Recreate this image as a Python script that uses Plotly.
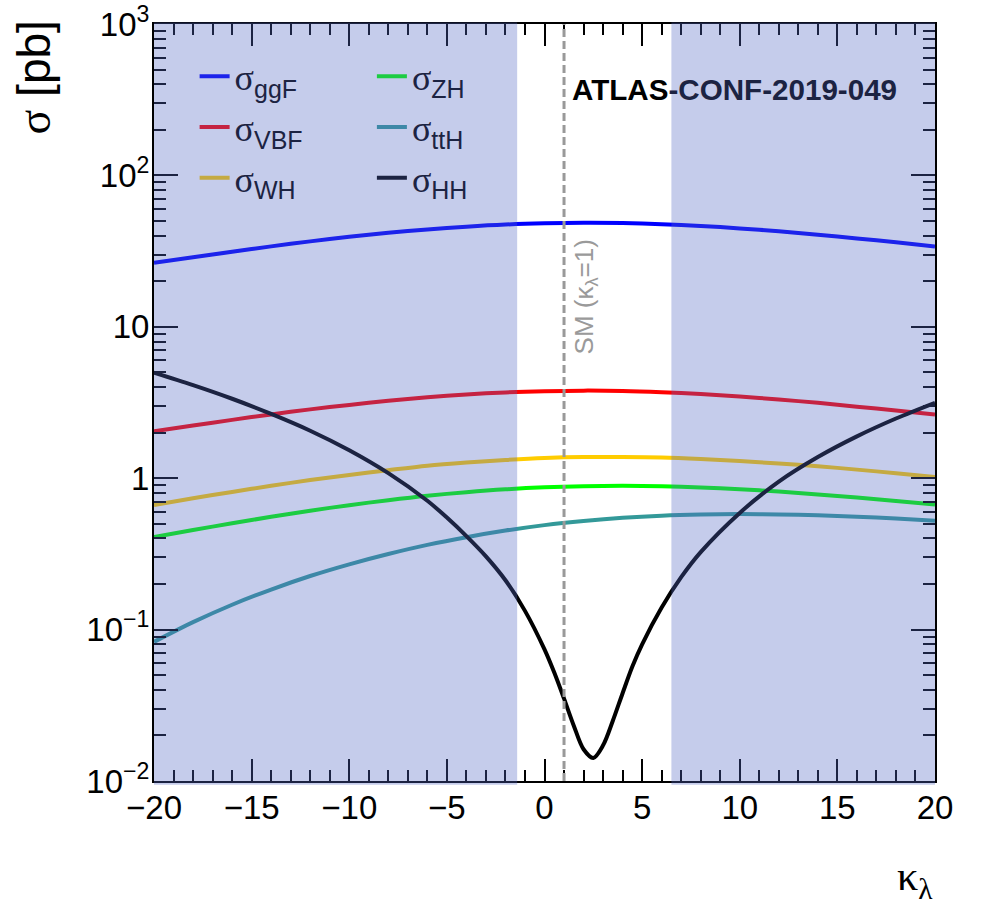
import plotly.graph_objects as go

# ---------------- data ----------------
kl_single = [-20, -18, -16, -14, -12, -10, -8, -6, -4, -2, 0, 2, 4, 6, 8, 10, 12, 14, 16, 18, 20]
sigma_ggF = [26.5, 28.8, 31.3, 34.0, 36.7, 39.3, 41.8, 44.0, 45.9, 47.4, 48.3, 48.7, 48.5, 47.7, 46.4, 44.7, 42.8, 40.6, 38.4, 36.2, 34.0]
sigma_VBF = [2.04, 2.23, 2.43, 2.64, 2.85, 3.05, 3.25, 3.43, 3.58, 3.69, 3.76, 3.79, 3.77, 3.70, 3.60, 3.47, 3.31, 3.15, 2.97, 2.80, 2.64]
sigma_WH = [0.665, 0.737, 0.812, 0.891, 0.973, 1.05, 1.13, 1.21, 1.27, 1.32, 1.36, 1.38, 1.38, 1.37, 1.34, 1.30, 1.25, 1.20, 1.14, 1.08, 1.02]
sigma_ZH = [0.409, 0.455, 0.504, 0.556, 0.610, 0.664, 0.716, 0.766, 0.809, 0.845, 0.871, 0.886, 0.891, 0.885, 0.869, 0.846, 0.816, 0.782, 0.745, 0.707, 0.670]
sigma_ttH = [0.083, 0.112, 0.146, 0.184, 0.226, 0.270, 0.316, 0.363, 0.408, 0.451, 0.490, 0.522, 0.548, 0.566, 0.576, 0.580, 0.577, 0.569, 0.557, 0.542, 0.523]

kl_hh = [-20, -18, -16, -14, -12, -10, -8, -6, -5, -4, -3, -2, -1, 0, 0.5, 1, 1.5, 2, 2.5, 3, 3.5, 4, 4.5, 5,
         6, 7, 8, 10, 12, 14, 16, 18, 20]
sigma_HH = [4.98, 4.12, 3.35, 2.66, 2.06, 1.53, 1.08, 0.71, 0.55, 0.415, 0.305, 0.212, 0.133, 0.074, 0.052, 0.035,
            0.0232, 0.0162, 0.0142, 0.0172, 0.025, 0.038, 0.057, 0.080, 0.140, 0.222, 0.325, 0.59, 0.95, 1.38,
            1.89, 2.48, 3.15]

allowed_kl = [-1.4, 6.5]      # unshaded (allowed) interval
sm_kl = 1

x_ticks = [-20, -15, -10, -5, 0, 5, 10, 15, 20]
y_tickvals = [0.01, 0.1, 1, 10, 100, 1000]
y_ticktext = ["10<sup>\u22122</sup>", "10<sup>\u22121</sup>", "1", "10", "10<sup>2</sup>", "10<sup>3</sup>"]
y_minor = [m * 10 ** e for e in range(-2, 3) for m in range(2, 10)]

names = ["ggF", "VBF", "WH", "ZH", "ttH", "HH"]
line_colors = ["#0000ff", "#ff0000", "#ffcc00", "#00ff00", "#339999", "#000000"]
legend_colors = ["#1c23eb", "#c52342", "#c5aa42", "#1ccc42", "#3e88a7", "#1c2342"]
legend_slot = ["legend", "legend", "legend", "legend2", "legend2", "legend2"]

NAVY = "#1c2342"
SANS = "Liberation Sans"
SERIF = "Liberation Serif"

fig = go.Figure()

series = [(kl_single, sigma_ggF), (kl_single, sigma_VBF), (kl_single, sigma_WH),
          (kl_single, sigma_ZH), (kl_single, sigma_ttH), (kl_hh, sigma_HH)]
for (xs, ys), col in zip(series, line_colors):
    fig.add_trace(go.Scatter(x=xs, y=ys, mode="lines", showlegend=False, hoverinfo="skip",
                             line=dict(color=col, width=4, shape="spline", smoothing=0.9)))

# legend entries (colours as seen under the shaded overlay)
for nm, col, slot in zip(names, legend_colors, legend_slot):
    label = ('\u03c3<sub><span style="font-family:%s;font-size:25px">%s</span></sub>' % (SANS, nm))
    fig.add_trace(go.Scatter(x=[None], y=[None], mode="lines", name=label, legend=slot,
                             legendgroup=nm, line=dict(color=col, width=4)))

# dashed SM line
fig.add_shape(type="line", x0=sm_kl, x1=sm_kl, xref="x", y0=0, y1=1, yref="paper",
              line=dict(color="#999999", width=3, dash="8px,4px"), layer="above")

# shaded (excluded) regions drawn on top of everything in the frame
overlay = "rgba(83,104,196,0.337)"
fig.add_shape(type="rect", xref="x", yref="paper", x0=-20.15, x1=allowed_kl[0], y0=-0.005, y1=1.002,
              fillcolor=overlay, line=dict(width=0), layer="above")
fig.add_shape(type="rect", xref="x", yref="paper", x0=allowed_kl[1], x1=20.08, y0=-0.005, y1=1.002,
              fillcolor=overlay, line=dict(width=0), layer="above")

fig.update_xaxes(range=[-20, 20], tickvals=x_ticks, ticks="inside", ticklen=22, tickwidth=1.5,
                 tickcolor="black", showline=True, linecolor="black", linewidth=2, mirror="ticks",
                 showgrid=False, zeroline=False, automargin=False, ticklabelstandoff=-4,
                 tickfont=dict(family=SANS, size=33, color="black"),
                 minor=dict(dtick=1, tick0=0, ticks="inside", ticklen=11, tickwidth=1.5,
                            tickcolor="black", showgrid=False))
fig.update_yaxes(type="log", range=[-2, 3.0005], tickvals=y_tickvals, ticktext=y_ticktext,
                 ticks="inside", ticklen=24, tickwidth=1.5, tickcolor="black", showline=True,
                 linecolor="black", linewidth=2, mirror="ticks", showgrid=False, zeroline=False,
                 automargin=False, ticklabelstandoff=-4,
                 tickfont=dict(family=SANS, size=33, color="black"),
                 minor=dict(tickmode="array", tickvals=y_minor, ticks="inside", ticklen=12,
                            tickwidth=1.5, tickcolor="black", showgrid=False))

legend_common = dict(xanchor="left", yanchor="top", bgcolor="rgba(0,0,0,0)", borderwidth=0,
                     font=dict(family=SERIF, size=36, color=NAVY), traceorder="grouped",
                     tracegroupgap=1, itemwidth=30, orientation="v")

fig.update_layout(
    width=982, height=910,
    margin=dict(l=154, r=47, t=24, b=129, autoexpand=False),
    paper_bgcolor="white", plot_bgcolor="white",
    font=dict(family=SANS, color="black"),
    legend=dict(x=0.052, y=0.9705, **legend_common),
    legend2=dict(x=0.279, y=0.9705, **legend_common),
    annotations=[
        dict(text='<b>ATLAS</b><b><span style="color:%s">-CONF-2019-049</span></b>' % NAVY,
             xref="paper", yref="paper", x=0.533, y=0.914, xanchor="left", yanchor="middle",
             showarrow=False, font=dict(family=SANS, size=29.6, color="black")),
        dict(text="SM (\u03ba<sub>\u03bb</sub>=1)", xref="paper", yref="paper", x=0.552, y=0.639,
             xanchor="center", yanchor="middle", textangle=-90, showarrow=False,
             font=dict(family=SANS, size=26, color="#9a9a9a")),
        dict(text='<span style="font-family:%s">\u03c3</span> [pb]' % SERIF, xref="paper", yref="paper",
             x=-0.154, y=0.929, xanchor="center", yanchor="middle", textangle=-90, showarrow=False,
             font=dict(family=SANS, size=46, color="black")),
        dict(text="\u03ba<sub>\u03bb</sub>", xref="paper", yref="paper", x=1.0, y=-0.167,
             xanchor="right", yanchor="bottom", showarrow=False,
             font=dict(family=SERIF, size=42, color="black")),
    ],
)

# remove the default 8 px page margin so the figure fills the window exactly
fig.write_html("out.html", config={"displayModeBar": False},
               post_script="document.body.style.margin='0px';document.body.style.overflow='hidden';")
